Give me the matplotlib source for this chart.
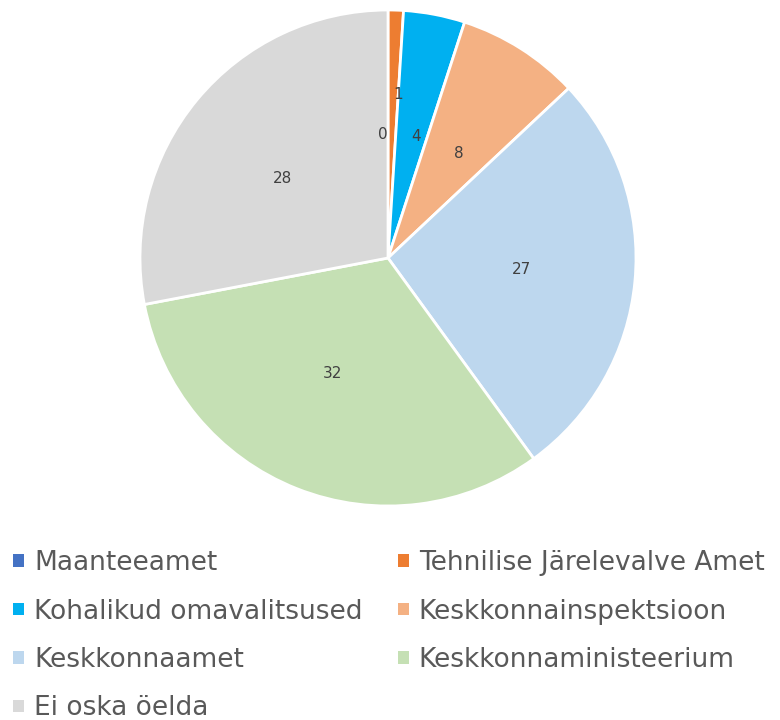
import matplotlib.pyplot as plt

# Andmed
labels = ["Maanteeamet", "Tehnilise Järelevalve Amet", "Kohalikud omavalitsused",
          "Keskkonnainspektsioon", "Keskkonnaamet", "Keskkonnaministeerium", "Ei oska öelda"]
values = [0, 1, 4, 8, 27, 32, 28]
colors = ["#4472C4", "#ED7D31", "#00B0F0", "#F4B183", "#BDD7EE", "#C5E0B4", "#D9D9D9"]

fig = plt.figure(figsize=(7.8, 7.2), dpi=100)
W, H = 780, 720
cx, cy, r = 388, 258, 248
ax = fig.add_axes([(cx - r) / W, (H - cy - r) / H, 2 * r / W, 2 * r / H])

wedges, texts = ax.pie(values, colors=colors, startangle=90, counterclock=False,
                       labels=[str(v) for v in values], labeldistance=0.5,
                       wedgeprops=dict(edgecolor="white", linewidth=2),
                       textprops=dict(fontsize=11, color="#404040"))
# label "1" sits further out, like in the original
x, y = texts[1].get_position()
texts[1].set_position((x * 1.32, y * 1.32))
ax.set_xlim(-1, 1)
ax.set_ylim(-1, 1)
ax.set_aspect("equal")

order = [0, 2, 4, 6, 1, 3, 5]
leg = fig.legend([wedges[i] for i in order], [labels[i] for i in order],
                 ncol=2, loc="upper left", bbox_to_anchor=(0.0167, 0.236),
                 frameon=False, fontsize=19, borderpad=0, borderaxespad=0,
                 handlelength=0.42, handleheight=0.34,
                 handletextpad=0.38, labelspacing=0.85, columnspacing=1.33,
                 labelcolor="#595959")
for h in leg.legend_handles:
    h.set_edgecolor("none")

fig.savefig("out.png", dpi=100)
